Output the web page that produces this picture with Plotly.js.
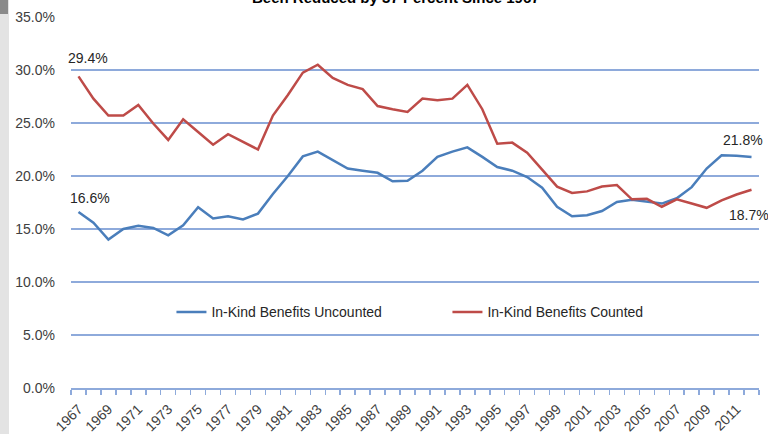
<!DOCTYPE html>
<html>
<head>
<meta charset="utf-8">
<script src="https://cdn.plot.ly/plotly-3.0.1.min.js"></script>
<style>
html,body{margin:0;padding:0;background:#fff;}
#chart{width:768px;height:434px;}
</style>
</head>
<body>
<div id="chart"></div>
<script>
const years = [];
for (let y = 1967; y <= 2012; y++) years.push(y);

const uncounted = [16.6,15.6,14.0,15.0,15.3,15.1,14.4,15.35,17.05,16.0,16.2,15.9,16.45,18.3,20.0,21.85,22.3,21.5,20.7,20.5,20.3,19.5,19.55,20.5,21.8,22.3,22.7,21.8,20.85,20.5,19.9,18.9,17.1,16.2,16.3,16.7,17.55,17.75,17.6,17.4,17.9,18.95,20.7,21.95,21.9,21.8];
const counted = [29.4,27.3,25.7,25.7,26.7,24.95,23.4,25.35,24.15,22.95,23.95,23.2,22.5,25.7,27.65,29.75,30.5,29.25,28.6,28.2,26.6,26.3,26.05,27.3,27.15,27.3,28.6,26.3,23.05,23.15,22.2,20.6,19.0,18.4,18.55,19.0,19.15,17.8,17.85,17.1,17.8,17.4,17.0,17.7,18.25,18.7];

const seriesNames = ["In-Kind Benefits Uncounted", "In-Kind Benefits Counted"];
const yTicks = [0,5,10,15,20,25,30,35];
const xTickYears = years.filter(y => (y - 1967) % 2 === 0 && y <= 2011);
const titleText = "Been Reduced by 37 Percent Since 1967";

const blue = "#4a7ebb", red = "#be4b48", grid = "#8eaadb", txt = "#404040";
const font = "Liberation Sans, Arial, sans-serif";

const traces = [
  {x: years, y: uncounted, type: "scatter", mode: "lines", name: seriesNames[0],
   line: {color: blue, width: 2.5}},
  {x: years, y: counted, type: "scatter", mode: "lines", name: seriesNames[1],
   line: {color: red, width: 2.5}}
];

const fmt = v => v.toFixed(1) + "%";
const last = years.length - 1;
const annFont = {family: font, size: 14, color: "#262626"};
const annotations = [
  {x: years[0], y: counted[0], text: fmt(counted[0]), showarrow: false, xanchor: "left", yanchor: "middle", xshift: -12, yshift: 18, font: annFont},
  {x: years[0], y: uncounted[0], text: fmt(uncounted[0]), showarrow: false, xanchor: "left", yanchor: "middle", xshift: -10, yshift: 14, font: annFont},
  {x: years[last], y: uncounted[last], text: fmt(uncounted[last]), showarrow: false, xanchor: "right", yanchor: "middle", xshift: 13, yshift: 17, font: annFont},
  {x: years[last], y: counted[last], text: fmt(counted[last]), showarrow: false, xanchor: "left", yanchor: "middle", xshift: -25, yshift: -25, font: annFont},
  {xref: "paper", yref: "paper", x: 0.472, y: 1.024, text: "<b>" + titleText + "</b>", showarrow: false, xanchor: "center", yanchor: "bottom", font: {family: font, size: 15, color: "#000"}}
];

const plotW = 768 - 71 - 9;
const shapes = [
  {type: "rect", xref: "paper", yref: "paper", x0: -71/plotW, x1: -62/plotW, y0: -46/371, y1: 1 + 17/371, fillcolor: "#e3e3e3", line: {width: 0}, layer: "below"},
  {type: "rect", xref: "paper", yref: "paper", x0: -71/plotW, x1: -63/plotW, y0: 1 + 3/371, y1: 1 + 17/371, fillcolor: "#8a8a8a", line: {width: 0}, layer: "below"}
];

const layout = {
  width: 768, height: 434,
  margin: {l: 71, r: 9, t: 17, b: 46, pad: 0},
  paper_bgcolor: "#fff", plot_bgcolor: "#fff",
  showlegend: true,
  legend: {orientation: "h", x: 0.146, y: 0.204, xanchor: "left", yanchor: "middle",
           font: {family: font, size: 14, color: "#262626"}, bgcolor: "rgba(0,0,0,0)",
           entrywidth: 231, itemwidth: 30},
  xaxis: {range: [1966.5, 2012.5], tickmode: "array", tickvals: xTickYears, ticktext: xTickYears.map(String),
          tickangle: -45, ticks: "", showgrid: false, zeroline: false,
          showline: true, linecolor: grid, linewidth: 1.5,
          ticklabelstandoff: 6,
          tickfont: {family: font, size: 14, color: txt},
          minor: {tick0: 1966.5, dtick: 1, ticks: "outside", ticklen: 5, tickcolor: grid, tickwidth: 1.5, showgrid: false}},
  yaxis: {range: [0, 35], tickmode: "array", tickvals: yTicks, ticktext: yTicks.map(v => v.toFixed(1) + "%"),
          showgrid: true, gridcolor: grid, gridwidth: 1.5, zeroline: false, showline: false, ticks: "",
          ticklabelstandoff: 15,
          tickfont: {family: font, size: 14, color: txt}},
  annotations: annotations,
  shapes: shapes
};

Plotly.newPlot("chart", traces, layout, {displayModeBar: false, staticPlot: true});
</script>
</body>
</html>
